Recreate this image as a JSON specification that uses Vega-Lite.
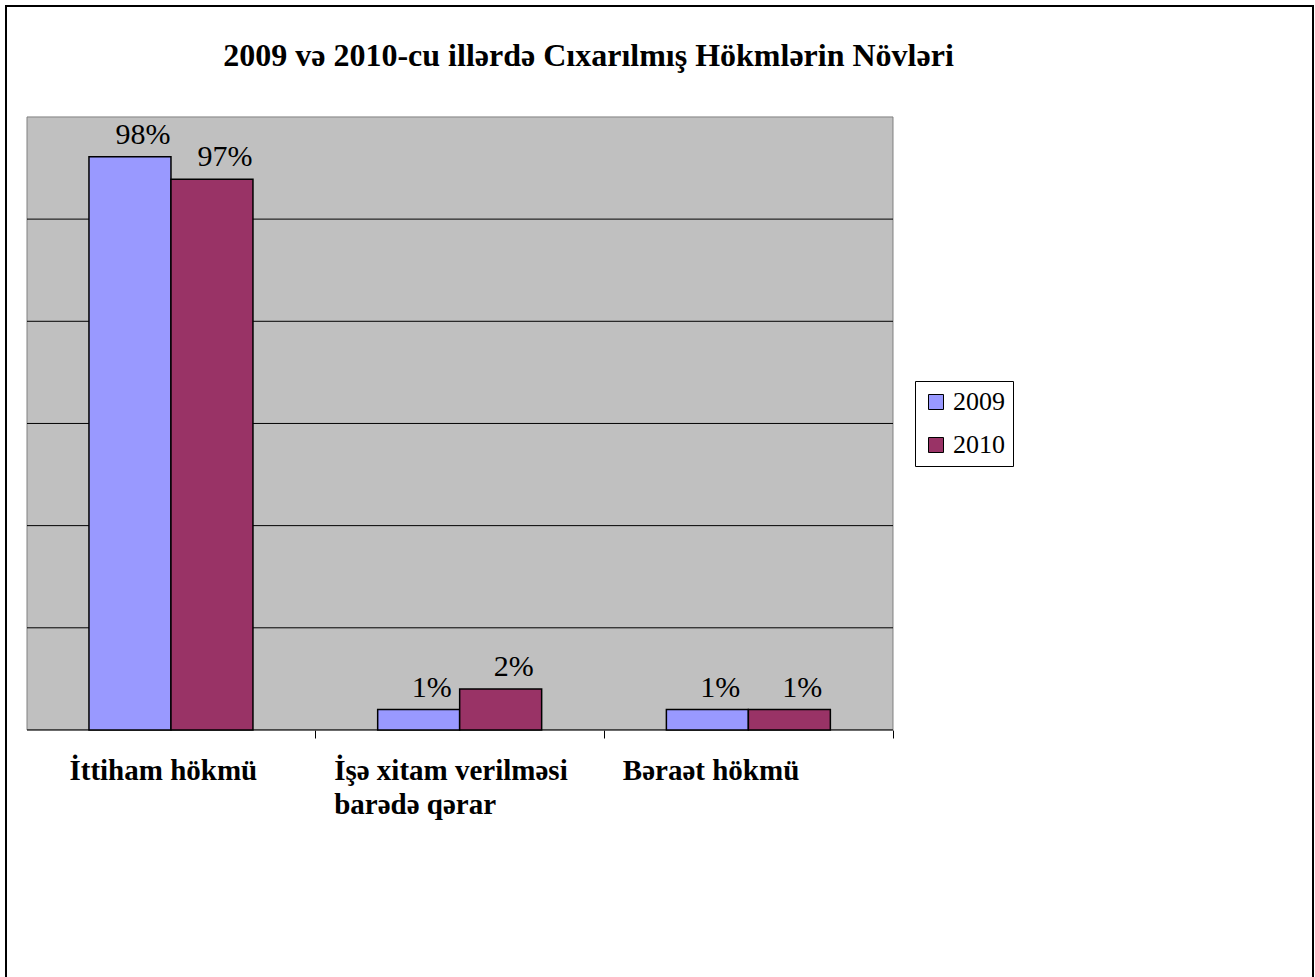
{
  "$schema": "https://vega.github.io/schema/vega-lite/v6.json",
  "width": 1307,
  "height": 994,
  "padding": {"left": 6, "top": 6, "right": 2, "bottom": 0},
  "background": "white",
  "config": {
    "font": "Liberation Serif, Times New Roman, Times, serif",
    "view": {"stroke": "black", "strokeWidth": 2}
  },
  "title": {
    "text": "2009 və 2010-cu illərdə Cıxarılmış Hökmlərin Növləri",
    "font": "Liberation Serif, Times New Roman, Times, serif",
    "fontSize": 32,
    "fontWeight": "bold",
    "color": "black",
    "anchor": "middle",
    "frame": "group",
    "orient": "top",
    "baseline": "alphabetic",
    "offset": -92,
    "dx": -71
  },
  "data": {
    "values": [
      {"category": "İttiham hökmü", "year": "2009", "value": 5.61, "label": "98%"},
      {"category": "İttiham hökmü", "year": "2010", "value": 5.39, "label": "97%"},
      {"category": "İşə xitam verilməsi barədə qərar", "year": "2009", "value": 0.2, "label": "1%"},
      {"category": "İşə xitam verilməsi barədə qərar", "year": "2010", "value": 0.4, "label": "2%"},
      {"category": "Bəraət hökmü", "year": "2009", "value": 0.2, "label": "1%"},
      {"category": "Bəraət hökmü", "year": "2010", "value": 0.2, "label": "1%"}
    ]
  },
  "resolve": {"scale": {"x": "independent"}, "axis": {"x": "independent"}},
  "layer": [
    {
      "layer": [
        {
          "data": {"values": [{"area": "plot"}]},
          "mark": {"type": "rect", "fill": "#C0C0C0", "stroke": "#808080", "strokeWidth": 1},
          "encoding": {
            "x": {"datum": 0, "type": "quantitative", "scale": {"domain": [-0.02425, 1.48499], "nice": false, "zero": false}, "axis": null},
            "x2": {"datum": 1},
            "y": {"datum": 0, "type": "quantitative", "scale": {"domain": [-2.643, 7.086], "nice": false, "zero": false}, "axis": null},
            "y2": {"datum": 6}
          }
        },
        {
          "data": {"values": [{"grid": 1}, {"grid": 2}, {"grid": 3}, {"grid": 4}, {"grid": 5}, {"grid": 0}]},
          "mark": {"type": "rule", "color": "black", "strokeWidth": 1},
          "encoding": {
            "x": {"datum": 0, "type": "quantitative", "scale": {"domain": [-0.02425, 1.48499], "nice": false, "zero": false}, "axis": null},
            "x2": {"datum": 1},
            "y": {"field": "grid", "type": "quantitative", "scale": {"domain": [-2.643, 7.086], "nice": false, "zero": false}, "axis": null}
          }
        }
      ]
    },
    {
      "layer": [
        {
          "mark": {"type": "bar", "stroke": "black", "strokeWidth": 1.5},
          "encoding": {
            "x": {
              "field": "category",
              "type": "nominal",
              "sort": ["İttiham hökmü", "İşə xitam verilməsi barədə qərar", "Bəraət hökmü"],
              "scale": {"paddingInner": 0.432, "paddingOuter": 0.9796, "align": 0.1467, "round": false},
              "axis": {
                "orient": "bottom",
                "offset": -270,
                "title": null,
                "domain": false,
                "grid": false,
                "ticks": true,
                "tickBand": "center",
                "tickOffset": 144.4,
                "tickSize": 8,
                "tickColor": "black",
                "tickWidth": 1,
                "labelFont": "Liberation Serif, Times New Roman, Times, serif",
                "labelFontSize": 29,
                "labelFontWeight": "bold",
                "labelColor": "black",
                "labelAngle": 0,
                "labelAlign": "left",
                "labelBaseline": "alphabetic",
                "labelPadding": 41,
                "labelLineHeight": 34,
                "labelLimit": 0,
                "labelOverlap": false,
                "labelOffset": {"condition": {"test": "datum.value == 'İttiham hökmü'", "value": -246.4}, "value": -270.4},
                "labelExpr": "datum.value == 'İşə xitam verilməsi barədə qərar' ? ['İşə xitam verilməsi', 'barədə qərar'] : datum.label"
              }
            },
            "xOffset": {"field": "year", "type": "nominal", "scale": {"paddingInner": 0, "paddingOuter": 0}},
            "y": {"field": "value", "type": "quantitative", "stack": null, "scale": {"domain": [-2.643, 7.086], "nice": false, "zero": false}, "axis": null},
            "y2": {"datum": 0},
            "color": {
              "field": "year",
              "type": "nominal",
              "scale": {"domain": ["2009", "2010"], "range": ["#9999FF", "#993366"]},
              "legend": {
                "orient": "none",
                "legendX": 909,
                "legendY": 375,
                "direction": "vertical",
                "title": null,
                "symbolType": "square",
                "symbolSize": 225,
                "symbolStrokeColor": "black",
                "symbolStrokeWidth": 1,
                "symbolOpacity": 1,
                "labelFont": "Liberation Serif, Times New Roman, Times, serif",
                "labelFontSize": 26,
                "labelColor": "black",
                "labelOffset": 4,
                "strokeColor": "black",
                "fillColor": "white",
                "padding": 8,
                "rowPadding": 17
              }
            }
          }
        },
        {
          "mark": {"type": "text", "font": "Liberation Serif, Times New Roman, Times, serif", "fontSize": 30, "color": "black", "baseline": "alphabetic", "align": "center", "dx": 13, "dy": -13},
          "encoding": {
            "x": {"field": "category", "type": "nominal", "sort": ["İttiham hökmü", "İşə xitam verilməsi barədə qərar", "Bəraət hökmü"]},
            "xOffset": {"field": "year", "type": "nominal"},
            "y": {"field": "value", "type": "quantitative"},
            "text": {"field": "label"}
          }
        }
      ]
    }
  ]
}
